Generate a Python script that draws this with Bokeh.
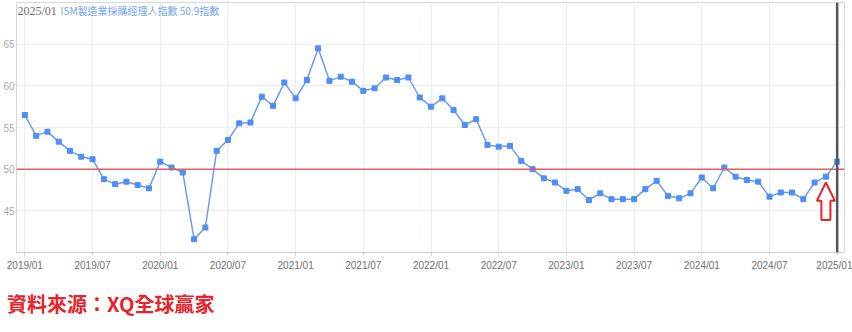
from bokeh.plotting import figure
from bokeh.models import Span, Label, FixedTicker, ColumnDataSource, Div
from bokeh.layouts import column
from bokeh.embed import file_html
from bokeh.resources import INLINE

# ---- data ----
months = [f"{y}/{m:02d}" for y in range(2019, 2025) for m in range(1, 13)] + ["2025/01"]
pmi_2019 = [56.5, 54.0, 54.5, 53.3, 52.2, 51.5, 51.2, 48.8, 48.2, 48.5, 48.1, 47.7]
pmi_2020 = [50.9, 50.2, 49.6, 41.6, 43.0, 52.2, 53.5, 55.5, 55.6, 58.7, 57.6, 60.4]
pmi_2021 = [58.5, 60.7, 64.5, 60.6, 61.1, 60.5, 59.4, 59.7, 61.0, 60.7, 61.0, 58.6]
pmi_2022 = [57.5, 58.5, 57.1, 55.3, 56.0, 52.9, 52.7, 52.8, 51.0, 50.0, 48.9, 48.4]
pmi_2023 = [47.4, 47.6, 46.3, 47.1, 46.4, 46.4, 46.4, 47.6, 48.6, 46.8, 46.5, 47.1]
pmi_2024 = [49.0, 47.7, 50.2, 49.1, 48.7, 48.5, 46.7, 47.2, 47.2, 46.4, 48.4, 49.1]
pmi_2025 = [50.9]
pmi = pmi_2019 + pmi_2020 + pmi_2021 + pmi_2022 + pmi_2023 + pmi_2024 + pmi_2025
tick_labels = ["2019/01", "2019/07", "2020/01", "2020/07", "2021/01", "2021/07",
               "2022/01", "2022/07", "2023/01", "2023/07", "2024/01", "2024/07", "2025/01"]
y_ticks = [45, 50, 55, 60, 65]
threshold = 50
latest_label = months[-1]
series_name = "ISM製造業採購經理人指數"
source_text = "資料來源：XQ全球贏家"

idx = list(range(len(months)))
tick_pos = [months.index(t) for t in tick_labels]

src = ColumnDataSource(dict(x=idx, y=pmi, m=months))

p = figure(width=852, height=280, x_range=(-0.74, 72.65), y_range=(40, 70),
           output_backend="svg", toolbar_location=None,
           min_border_left=4, min_border_right=8, min_border_top=2, min_border_bottom=28)
p.background_fill_color = "white"
p.border_fill_color = "white"
p.outline_line_color = "#d8d8d8"

# axes
p.xaxis.ticker = FixedTicker(ticks=tick_pos)
p.xaxis.major_label_overrides = {pos: lab for pos, lab in zip(tick_pos, tick_labels)}
p.xaxis.major_label_text_font_size = "10px"
p.xaxis.major_label_text_color = "#707070"
p.xaxis.major_label_text_font = "Liberation Sans"
p.xaxis.axis_line_color = "#cccccc"
p.xaxis.major_tick_line_color = "#cccccc"
p.xaxis.major_tick_out = 3
p.xaxis.major_tick_in = 0
p.xaxis.minor_tick_line_color = None
p.xaxis.major_label_standoff = 4

p.yaxis.ticker = FixedTicker(ticks=y_ticks)
p.yaxis.major_label_text_font_size = "10px"
p.yaxis.major_label_text_color = "#aaaaaa"
p.yaxis.major_label_text_font = "Liberation Sans"
p.yaxis.axis_line_color = "#d8d8d8"
p.yaxis.major_tick_line_color = None
p.yaxis.major_tick_out = 0
p.yaxis.major_tick_in = 0
p.yaxis.minor_tick_line_color = None
p.yaxis.minor_tick_out = 0
p.yaxis.major_label_standoff = 2

p.xgrid.ticker = FixedTicker(ticks=tick_pos)
p.xgrid.grid_line_color = "#e4eef9"
p.ygrid.ticker = FixedTicker(ticks=y_ticks)
p.ygrid.grid_line_color = "#eeeeee"

# threshold line
p.add_layout(Span(location=threshold, dimension="width", line_color="#e06060", line_width=1.5))

# series
p.line("x", "y", source=src, line_color="#6a9cf2", line_width=1.5)
p.scatter("x", "y", source=src, marker="square", size=5, fill_color="#4f8ef5", line_color="#4f8ef5")

# cursor line at latest month
p.add_layout(Span(location=idx[-1], dimension="height", line_color="#555555", line_width=2.5))

# hollow red arrow pointing at previous month's point
ax = idx[-2]
av = pmi[-2]
tip = av - 0.7
head_base = av - 2.9
bottom = av - 5.2
hw, sw = 0.8, 0.4
p.patch([ax, ax + hw, ax + sw, ax + sw, ax - sw, ax - sw, ax - hw],
        [tip, head_base, head_base, bottom, bottom, head_base, head_base],
        fill_color=None, line_color="#ee2222", line_width=2)

# in-plot title
p.add_layout(Label(x=1, y=242, x_units="screen", y_units="screen", text=latest_label,
                   text_font_size="12px", text_color="#707070",
                   text_font="Liberation Sans Narrow", text_baseline="middle"))
p.add_layout(Label(x=44, y=242, x_units="screen", y_units="screen",
                   text=f"{series_name} {pmi[-1]}指數",
                   text_font_size="10px", text_color="#74a6f0", text_font="Noto Sans CJK TC",
                   text_baseline="middle"))

# source caption below the chart
cap = Div(text=source_text, width=852, height=52,
          styles={"font-size": "20px", "font-weight": "bold", "color": "#e8222a",
                  "font-family": "'Noto Sans CJK TC', sans-serif", "line-height": "24px",
                  "padding-top": "12px", "padding-left": "7px", "margin": "0",
                  "white-space": "nowrap"})

layout = column(p, cap, spacing=0)
open("out.html", "w").write(file_html(layout, INLINE))
